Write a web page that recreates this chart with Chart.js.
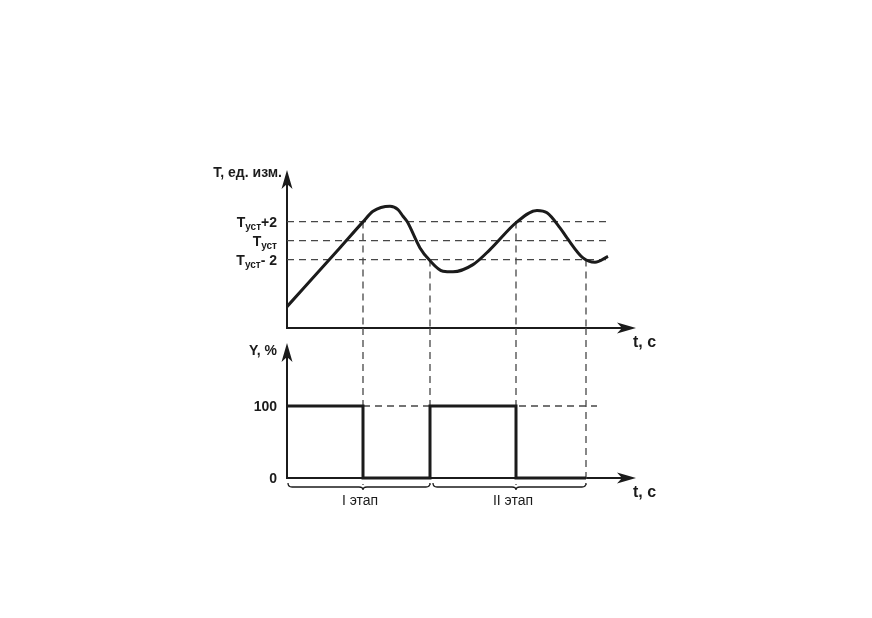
<!DOCTYPE html>
<html>
<head>
<meta charset="utf-8">
<script src="https://cdn.jsdelivr.net/npm/chart.js@4"></script>
<style>
  html, body { margin: 0; padding: 0; background: #fff; }
  #wrap { position: relative; width: 872px; height: 618px; }
  canvas { position: absolute; left: 0; top: 0; }
</style>
</head>
<body>
<div id="wrap">
  <canvas id="temp" width="872" height="618"></canvas>
  <canvas id="power" width="872" height="618"></canvas>
</div>
<script>
"use strict";
// temperature curve: time (s) and deviation from Tуст
const curveTime = [0, 5.3, 7.6, 8.6, 10.3, 11.1, 11.6, 12.0, 13.3, 14.2, 15.6, 16.6, 18.6, 20.3, 23.0, 25.0, 26.0, 27.3, 28.0, 29.6, 30.8, 32.1];
const curveTemp = [-6.95, -0.75, 1.97, 3.08, 3.61, 3.26, 2.56, 2.03, -0.77, -2.0, -3.23, -3.29, -2.53, -0.95, 1.97, 3.16, 2.92, 1.34, 0.28, -1.82, -2.28, -1.65];

// set-point levels and their tick labels
const levels = [2, 0, -2];
const levelSuffix = ["+2", "", "- 2"];
const levelEnd = 32.1;

// switching moments of the regulator
const switchTime = [7.6, 14.3, 22.9, 29.9];
const switchLevel = [2, -2, 2, -2];

// output power Y, %
const powerTime = [0, 7.6, 14.3, 22.9, 29.9];
const powerValue = [100, 0, 100, 0, 0];
const powerTicks = [100, 0];
const powerGuide = [7.6, 31.0];

// stages under the time axis
const stageFrom = [0, 14.5];
const stageMark = [7.6, 22.9];
const stageTo = [14.3, 29.9];
const stageLabel = ["I этап", "II этап"];

const timeMax = 34.9;
const tempMin = -9.2, tempMax = 7.43;
const powerMin = 0, powerMax = 208.3, powerArrow = 187.5, powerFoot = -9.7;

const ink = "#1b1b1b";
const dashInk = "#474747";
const fam = "'Liberation Sans Narrow', 'Liberation Sans', Arial, sans-serif";

function dashed(points) {
    return {
        data: points,
        borderColor: dashInk,
        borderWidth: 1.3,
        borderDash: [7, 5],
        pointRadius: 0,
        tension: 0,
        clip: false,
    };
}

function arrowHead(ctx, x, y, dir) {
    ctx.save();
    ctx.translate(x, y);
    if (dir === "right") ctx.rotate(Math.PI / 2);
    ctx.beginPath();
    ctx.moveTo(0, 0);
    ctx.lineTo(5.5, 19);
    ctx.lineTo(0, 14);
    ctx.lineTo(-5.5, 19);
    ctx.closePath();
    ctx.fillStyle = ink;
    ctx.fill();
    ctx.restore();
}

const axesPlugin = {
    id: "axes",
    beforeDatasetsDraw(chart, args, opts) {
        const { ctx, chartArea: a, scales: { x, y } } = chart;
        const x0 = x.getPixelForValue(0);
        const yb = a.bottom;
        const yTop = y.getPixelForValue(opts.arrowAt);
        ctx.save();
        ctx.strokeStyle = ink;
        ctx.lineWidth = 2;
        ctx.beginPath();
        ctx.moveTo(x0, yTop + 12);
        ctx.lineTo(x0, yb);
        ctx.lineTo(a.right - 12, yb);
        ctx.stroke();
        arrowHead(ctx, x0, yTop, "up");
        arrowHead(ctx, a.right, yb, "right");

        ctx.fillStyle = ink;
        ctx.textBaseline = "alphabetic";
        ctx.font = "bold 14px " + fam;
        ctx.textAlign = "right";
        ctx.fillText(opts.title, x0 - opts.titleGap, yTop + opts.titleDrop);
        ctx.font = "bold 16px " + fam;
        ctx.textAlign = "left";
        ctx.fillText("t, с", a.right - 3, yb + 19);

        opts.ticks.forEach(t => {
            const py = y.getPixelForValue(t.value);
            let xr = x0 - 10;
            ctx.font = "bold 14px " + fam;
            ctx.textAlign = "right";
            if (t.suffix) {
                ctx.fillText(t.suffix, xr, py + 5);
                xr -= ctx.measureText(t.suffix).width;
            }
            if (t.sub) {
                ctx.font = "bold 10px " + fam;
                ctx.fillText(t.sub, xr, py + 8);
                xr -= ctx.measureText(t.sub).width;
                ctx.font = "bold 14px " + fam;
            }
            ctx.fillText(t.main, xr, py + 5);
        });

        (opts.stages || []).forEach(s => {
            const p0 = x.getPixelForValue(s.from) + 1;
            const pm = x.getPixelForValue(s.mark);
            const p1 = x.getPixelForValue(s.to);
            const by = yb + 9;
            ctx.lineWidth = 1.3;
            ctx.beginPath();
            ctx.moveTo(p0, by - 4);
            ctx.quadraticCurveTo(p0, by, p0 + 4, by);
            ctx.lineTo(pm - 4, by);
            ctx.quadraticCurveTo(pm, by, pm, by + 3);
            ctx.quadraticCurveTo(pm, by, pm + 4, by);
            ctx.lineTo(p1 - 4, by);
            ctx.quadraticCurveTo(p1, by, p1, by - 4);
            ctx.stroke();
            ctx.font = "14px " + fam;
            ctx.textAlign = "center";
            ctx.fillText(s.label, pm - 3, by + 18);
        });
        ctx.restore();
    },
};

const baseOptions = (padding, yMin, yMax, decor) => ({
    responsive: false,
    animation: false,
    events: [],
    devicePixelRatio: 1,
    layout: { padding },
    scales: {
        x: { type: "linear", min: 0, max: timeMax, display: false },
        y: { type: "linear", min: yMin, max: yMax, display: false },
    },
    plugins: { legend: { display: false }, tooltip: { enabled: false }, axes: decor },
});

// upper chart: temperature
const tempSets = [
    {
        data: curveTime.map((t, i) => ({ x: t, y: curveTemp[i] })),
        borderColor: ink,
        borderWidth: 3,
        pointRadius: 0,
        cubicInterpolationMode: "monotone",
        clip: false,
    },
];
levels.forEach(l => tempSets.push(dashed([{ x: 0, y: l }, { x: levelEnd, y: l }])));
switchTime.forEach((t, i) => tempSets.push(dashed([{ x: t, y: switchLevel[i] }, { x: t, y: tempMin }])));

new Chart(document.getElementById("temp"), {
    type: "line",
    data: { datasets: tempSets },
    options: baseOptions({ left: 287, right: 236, top: 170, bottom: 290 }, tempMin, tempMax, {
        arrowAt: tempMax,
        title: "T, ед. изм.",
        titleGap: 5,
        titleDrop: 7,
        ticks: levels.map((l, i) => ({ value: l, main: "T", sub: "уст", suffix: levelSuffix[i] })),
    }),
    plugins: [axesPlugin],
});

// lower chart: output power
const powerSets = [
    {
        data: powerTime.map((t, i) => ({ x: t, y: powerValue[i] })),
        borderColor: ink,
        borderWidth: 3,
        pointRadius: 0,
        stepped: "before",
        clip: false,
    },
    dashed([{ x: powerGuide[0], y: 100 }, { x: powerGuide[1], y: 100 }]),
];
switchTime.forEach(t => powerSets.push(dashed([{ x: t, y: powerMax }, { x: t, y: powerFoot }])));

new Chart(document.getElementById("power"), {
    type: "line",
    data: { datasets: powerSets },
    options: baseOptions({ left: 287, right: 236, top: 328, bottom: 140 }, powerMin, powerMax, {
        arrowAt: powerArrow,
        title: "Y, %",
        titleGap: 10,
        titleDrop: 12,
        ticks: powerTicks.map(v => ({ value: v, main: String(v) })),
        stages: stageFrom.map((f, i) => ({ from: f, mark: stageMark[i], to: stageTo[i], label: stageLabel[i] })),
    }),
    plugins: [axesPlugin],
});
</script>
</body>
</html>
